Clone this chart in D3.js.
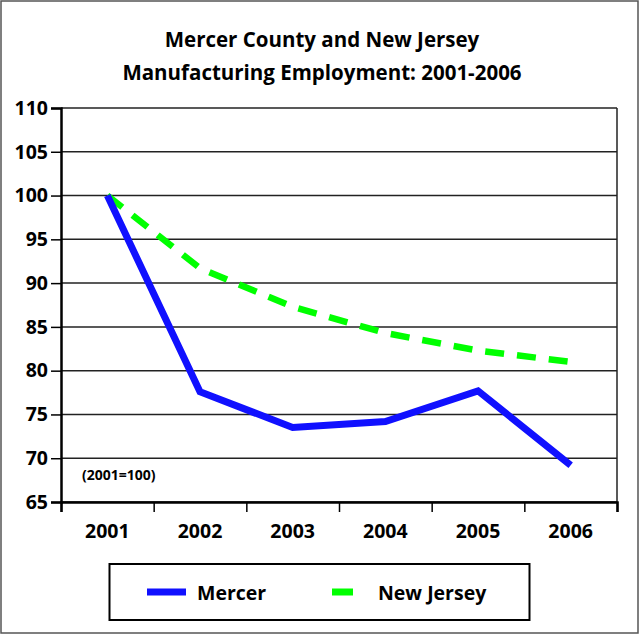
<!DOCTYPE html>
<html>
<head>
<meta charset="utf-8">
<script src="https://cdnjs.cloudflare.com/ajax/libs/d3/7.8.5/d3.min.js"></script>
<style>
  body { margin: 0; background: #fff; }
  text { font-family: "Open Sans", "DejaVu Sans", sans-serif; font-weight: bold; fill: #000; }
</style>
</head>
<body>
<div id="chart"></div>
<script>
// data (2001 = 100)
var years = ["2001", "2002", "2003", "2004", "2005", "2006"];
var mercer = [100, 77.6, 73.5, 74.2, 77.7, 69.2];
var newJersey = [100, 91.7, 87.3, 84.3, 82.3, 81.0];
var yTicks = [65, 70, 75, 80, 85, 90, 95, 100, 105, 110];
var titleLines = ["Mercer County and New Jersey", "Manufacturing Employment: 2001-2006"];

var W = 641, H = 635;
var plot = {left: 61, right: 617, top: 108, bottom: 502};

var svg = d3.select("#chart").append("svg")
    .attr("width", W)
    .attr("height", H);

// outer frame
svg.append("rect")
    .attr("x", 1).attr("y", 1)
    .attr("width", W - 4).attr("height", H - 3)
    .attr("fill", "none")
    .attr("stroke", "#555")
    .attr("stroke-width", 1.5);

// title
svg.selectAll(".title")
    .data(titleLines)
    .enter().append("text")
    .attr("class", "title")
    .attr("x", 322)
    .attr("y", function(d, i) { return 47 + i * 33; })
    .attr("text-anchor", "middle")
    .style("font-size", "20.5px")
    .text(function(d) { return d; });

// scales
var x = d3.scaleBand().domain(years).range([plot.left, plot.right]);
var xEdge = d3.scaleLinear().domain([0, years.length]).range([plot.left, plot.right]);
var y = d3.scaleLinear().domain([65, 110]).range([plot.bottom, plot.top]);

// gridlines
svg.append("g")
    .selectAll("line")
    .data(yTicks)
    .enter().append("line")
    .attr("x1", plot.left).attr("x2", plot.right)
    .attr("y1", function(d) { return y(d); })
    .attr("y2", function(d) { return y(d); })
    .attr("stroke", "#222")
    .attr("stroke-width", 1.5);

// right border of plot
svg.append("line")
    .attr("x1", plot.right).attr("x2", plot.right)
    .attr("y1", plot.top).attr("y2", plot.bottom)
    .attr("stroke", "#222").attr("stroke-width", 1.5);

// y axis
var yAxis = svg.append("g")
    .attr("transform", "translate(" + plot.left + ",0)")
    .call(d3.axisLeft(y).tickValues(yTicks).tickSize(10).tickPadding(3));
yAxis.select(".domain").attr("stroke", "#000").attr("stroke-width", 2.5);
yAxis.selectAll(".tick line").attr("stroke", "#000").attr("stroke-width", 1.5);
yAxis.selectAll("text").style("font-size", "19.5px").attr("font-family", null);

// x axis (ticks at category edges)
var xAxis = svg.append("g")
    .attr("transform", "translate(0," + plot.bottom + ")")
    .call(d3.axisBottom(xEdge).tickValues(d3.range(years.length + 1)).tickSize(10).tickFormat(""));
xAxis.select(".domain").attr("stroke", "#000").attr("stroke-width", 2.5);
xAxis.selectAll(".tick line").attr("stroke", "#000").attr("stroke-width", 1.5);

svg.append("g")
    .selectAll("text")
    .data(years)
    .enter().append("text")
    .attr("x", function(d) { return x(d) + x.bandwidth() / 2; })
    .attr("y", 538)
    .attr("text-anchor", "middle")
    .style("font-size", "19.5px")
    .text(function(d) { return d; });

// base note
svg.append("text")
    .attr("x", 82)
    .attr("y", 480)
    .style("font-size", "14px")
    .text("(2001=100)");

// lines
var line = d3.line()
    .x(function(d, i) { return x(years[i]) + x.bandwidth() / 2; })
    .y(function(d) { return y(d); });

svg.append("path")
    .datum(newJersey)
    .attr("fill", "none")
    .attr("stroke", "#00ff00")
    .attr("stroke-width", 6.5)
    .attr("stroke-dasharray", "19,13")
    .attr("d", line);

svg.append("path")
    .datum(mercer)
    .attr("fill", "none")
    .attr("stroke", "#1010ff")
    .attr("stroke-width", 7)
    .attr("stroke-linejoin", "miter")
    .attr("d", line);

// legend
var legend = svg.append("g");
legend.append("rect")
    .attr("x", 109.5).attr("y", 564)
    .attr("width", 420).attr("height", 56)
    .attr("fill", "#fff")
    .attr("stroke", "#000")
    .attr("stroke-width", 2);

var legendItems = [
  {name: "Mercer", color: "#1010ff", x1: 147, x2: 186, tx: 197},
  {name: "New Jersey", color: "#00ff00", x1: 332, x2: 353, tx: 378}
];
legendItems.forEach(function(d) {
  legend.append("line")
      .attr("x1", d.x1).attr("x2", d.x2)
      .attr("y1", 592).attr("y2", 592)
      .attr("stroke", d.color)
      .attr("stroke-width", 7);
  legend.append("text")
      .attr("x", d.tx).attr("y", 600)
      .style("font-size", "19.5px")
      .text(d.name);
});
</script>
</body>
</html>
